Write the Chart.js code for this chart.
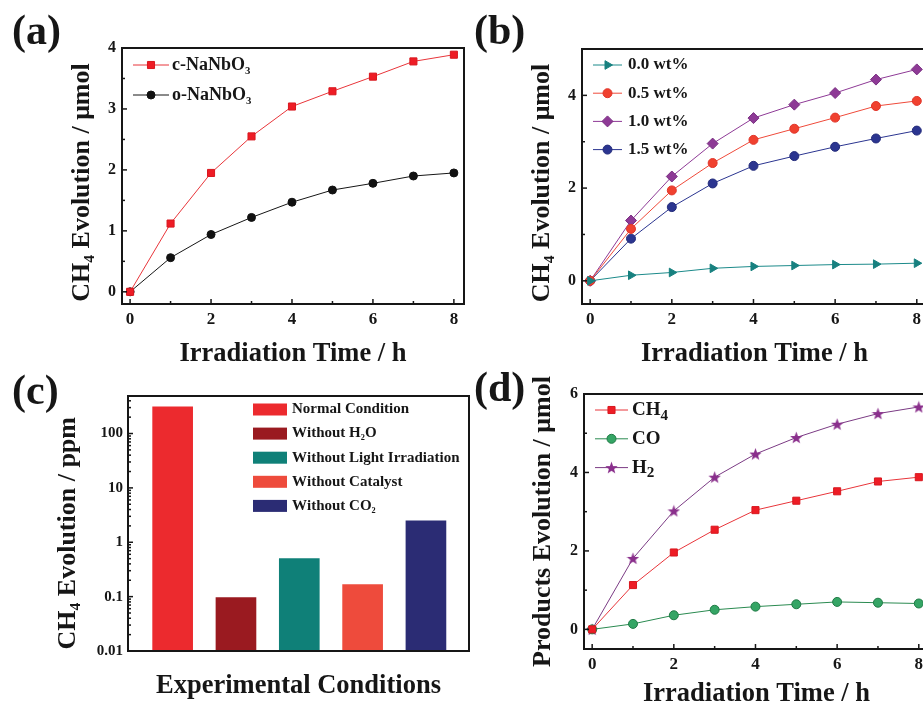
<!DOCTYPE html>
<html><head><meta charset="utf-8">
<script src="https://cdn.jsdelivr.net/npm/chart.js@4.4.1/dist/chart.umd.min.js"></script>
<style>
html,body{margin:0;padding:0;background:#fff;overflow:hidden;width:923px;height:704px;position:relative;}
.p{position:absolute;}
.p canvas{display:block;}
.lab{position:absolute;font-family:'Liberation Serif','Times New Roman',serif;font-weight:bold;font-size:42px;line-height:1;color:#161616;}
</style></head><body>
<div class="p" style="left:0;top:0"><canvas id="ca" width="470" height="370"></canvas></div>
<div class="p" style="left:470px;top:0"><canvas id="cb" width="470" height="370"></canvas></div>
<div class="p" style="left:0;top:370px"><canvas id="cc" width="470" height="334"></canvas></div>
<div class="p" style="left:470px;top:370px"><canvas id="cd" width="470" height="350"></canvas></div>
<div class="lab" style="left:12px;top:9px">(a)</div>
<div class="lab" style="left:474px;top:9px">(b)</div>
<div class="lab" style="left:12px;top:369px">(c)</div>
<div class="lab" style="left:474px;top:366px">(d)</div>
<script>
// ---------- data ----------
const hours = [0, 1, 2, 3, 4, 5, 6, 7, 8];
// (a)
const seriesA = ['c-NaNbO₃', 'o-NaNbO₃'];
const cNaNbO3 = [0, 1.12, 1.95, 2.55, 3.04, 3.29, 3.53, 3.78, 3.89];
const oNaNbO3 = [0, 0.56, 0.94, 1.22, 1.47, 1.67, 1.78, 1.90, 1.95];
// (b)
const loadings = ['0.0 wt%', '0.5 wt%', '1.0 wt%', '1.5 wt%'];
const wt00 = [0, 0.12, 0.18, 0.27, 0.31, 0.33, 0.35, 0.36, 0.38];
const wt05 = [0, 1.12, 1.95, 2.54, 3.04, 3.28, 3.52, 3.77, 3.88];
const wt10 = [0, 1.30, 2.25, 2.96, 3.51, 3.80, 4.05, 4.34, 4.56];
const wt15 = [0, 0.91, 1.59, 2.10, 2.48, 2.69, 2.89, 3.07, 3.24];
// (c)
const conditions = ['Normal Condition', 'Without H₂O', 'Without Light Irradiation', 'Without Catalyst', 'Without CO₂'];
const ch4ppm = [310, 0.096, 0.50, 0.167, 2.48];
const logTicks = [0.01, 0.1, 1, 10, 100];
// (d)
const products = ['CH₄', 'CO', 'H₂'];
const ch4 = [0, 1.13, 1.96, 2.54, 3.04, 3.28, 3.52, 3.77, 3.88];
const co  = [0, 0.14, 0.36, 0.50, 0.58, 0.64, 0.70, 0.68, 0.66];
const h2  = [0, 1.81, 3.02, 3.88, 4.47, 4.89, 5.23, 5.50, 5.67];

// ---------- style ----------
const SERIF = "'Liberation Serif','Times New Roman',serif";
Chart.defaults.font.family = SERIF;
Chart.defaults.font.weight = 'bold';
Chart.defaults.color = '#161616';

function starImage(color, size) {
  const c = document.createElement('canvas');
  c.width = size; c.height = size;
  const g = c.getContext('2d');
  const cx = size / 2, cy = size / 2 + 0.6, R = size / 2, r = R * 0.42;
  g.beginPath();
  for (let i = 0; i < 10; i++) {
    const a = -Math.PI / 2 + i * Math.PI / 5;
    const rr = i % 2 ? r : R;
    g.lineTo(cx + rr * Math.cos(a), cy + rr * Math.sin(a));
  }
  g.closePath(); g.fillStyle = color; g.fill();
  return c;
}
const starH2 = starImage('#8a2f8c', 13);

function drawRich(ctx, text, x, y, size, subScale, subDrop) {
  const subs = '₀₁₂₃₄₅₆₇₈₉';
  let cx = x;
  for (const ch of text) {
    const k = subs.indexOf(ch);
    if (k >= 0) {
      ctx.font = 'bold ' + (size * subScale) + 'px ' + SERIF;
      ctx.fillText(String(k), cx, y + size * subDrop);
      cx += ctx.measureText(String(k)).width;
    } else {
      ctx.font = 'bold ' + size + 'px ' + SERIF;
      ctx.fillText(ch, cx, y);
      cx += ctx.measureText(ch).width;
    }
  }
}

function marker(ctx, ds, x, y) {
  ctx.save();
  ctx.fillStyle = ds.pointBackgroundColor;
  ctx.strokeStyle = ds.pointBorderColor;
  ctx.lineWidth = ds.pointBorderWidth;
  const opt = { pointStyle: ds.pointStyle, rotation: ds.pointRotation || 0, radius: ds.pointRadius, borderWidth: ds.pointBorderWidth };
  if (Chart.helpers && Chart.helpers.drawPoint) Chart.helpers.drawPoint(ctx, opt, x, y);
  else { ctx.beginPath(); ctx.arc(x, y, ds.pointRadius, 0, Math.PI * 2); ctx.fill(); }
  ctx.restore();
}

const legendPlugin = {
  id: 'richLegend',
  afterDraw(chart, args, o) {
    if (!o || !o.x) return;
    const ctx = chart.ctx;
    ctx.save();
    ctx.textBaseline = 'middle';
    ctx.textAlign = 'left';
    chart.data.datasets.forEach((ds, i) => {
      const y = o.y + i * o.dy;
      if (o.type === 'box') {
        ctx.fillStyle = ds.backgroundColor;
        ctx.fillRect(o.x, y - o.boxH / 2, o.boxW, o.boxH);
      } else {
        ctx.strokeStyle = ds.borderColor; ctx.lineWidth = 1;
        ctx.beginPath(); ctx.moveTo(o.x, y); ctx.lineTo(o.x + o.lineLen, y); ctx.stroke();
        marker(ctx, ds, o.x + o.lineLen / 2, y);
      }
      ctx.fillStyle = '#161616';
      drawRich(ctx, ds.label, o.textX, y, o.size, o.subScale, o.subDrop);
    });
    ctx.restore();
  }
};

const framePlugin = {
  id: 'frameTicks',
  afterDraw(chart, args, o) {
    if (!o || !o.on) return;
    const { ctx, chartArea: a, scales: { x, y } } = chart;
    ctx.save();
    ctx.strokeStyle = '#161616';
    ctx.lineWidth = 1.5;
    const tick = (x1, y1, x2, y2) => { ctx.beginPath(); ctx.moveTo(x1, y1); ctx.lineTo(x2, y2); ctx.stroke(); };
    (o.xMajor || []).forEach(v => { const p = x.getPixelForValue(v); tick(p, a.bottom, p, a.bottom - 5); });
    (o.xMinor || []).forEach(v => { const p = x.getPixelForValue(v); tick(p, a.bottom, p, a.bottom - 3); });
    (o.yMajor || []).forEach(v => { const p = y.getPixelForValue(v); tick(a.left, p, a.left + 5, p); });
    (o.yMinor || []).forEach(v => { const p = y.getPixelForValue(v); if (p >= a.top) tick(a.left, p, a.left + 3, p); });
    ctx.lineWidth = 2;
    ctx.strokeRect(a.left, a.top, a.right - a.left, a.bottom - a.top);
    ctx.restore();
  }
};

function range(a, b, s) { const r = []; for (let v = a; v <= b + 1e-9; v += s) r.push(+v.toFixed(4)); return r; }

function lineChart(id, c) {
  return new Chart(document.getElementById(id), {
    type: 'line',
    data: {
      datasets: c.series.map(s => ({
        label: s.label,
        data: hours.map((h, i) => ({ x: h, y: s.data[i] })),
        borderColor: s.line, borderWidth: 1, tension: 0,
        pointStyle: s.style, pointRadius: s.r, pointRotation: s.rot || 0,
        pointBackgroundColor: s.fill, pointBorderColor: s.edge, pointBorderWidth: 1
      }))
    },
    options: {
      responsive: false, animation: false, devicePixelRatio: 1,
      layout: { padding: c.pad },
      plugins: { legend: { display: false }, tooltip: { enabled: false }, richLegend: c.legend, frameTicks: c.frame },
      scales: {
        x: {
          type: 'linear', min: -0.2, max: 8.25,
          grid: { display: false, drawTicks: false }, border: { display: false },
          ticks: { stepSize: 2, includeBounds: false, padding: 5, font: { size: 17, weight: 'bold' }, color: '#161616' },
          title: { display: true, text: 'Irradiation Time / h', font: { size: 26.5, weight: 'bold' }, color: '#161616', padding: { top: 0, bottom: c.xTitlePad } },
          afterFit: s => { s.height = c.xh; }
        },
        y: {
          type: 'linear', min: c.ymin, max: c.ymax,
          grid: { display: false, drawTicks: false }, border: { display: false },
          ticks: { stepSize: c.ystep, includeBounds: false, padding: 6, font: { size: 16, weight: 'bold' }, color: '#161616' },
          title: { display: true, text: c.ytitle, font: { size: 26, weight: 'bold' }, color: '#161616', padding: { top: c.yTitlePad, bottom: 0 } },
          afterFit: s => { s.width = c.yw; }
        }
      }
    },
    plugins: [framePlugin, legendPlugin]
  });
}

// (a)
lineChart('ca', {
  pad: { top: 48, right: 3, left: 0, bottom: 0 }, yw: 122, xh: 66,
  ymin: -0.2, ymax: 4, ystep: 1, ytitle: 'CH₄ Evolution / μmol  ', yTitlePad: 66.4, xTitlePad: 0,
  series: [
    { label: seriesA[0], data: cNaNbO3, line: '#e8353a', fill: '#ee1c25', edge: '#d8181f', style: 'rect', r: 5 },
    { label: seriesA[1], data: oNaNbO3, line: '#161616', fill: '#111', edge: '#111', style: 'circle', r: 4 }
  ],
  legend: { x: 133, y: 65, dy: 30, lineLen: 36, textX: 172, size: 18, subScale: 0.6, subDrop: 0.35 },
  frame: { on: true, xMajor: range(0, 8, 2), xMinor: range(1, 7, 2), yMajor: range(0, 4, 1), yMinor: range(0.5, 3.5, 1) }
});

// (b)
lineChart('cb', {
  pad: { top: 49, right: 13, left: 0, bottom: 0 }, yw: 112, xh: 66,
  ymin: -0.5, ymax: 5, ystep: 2, ytitle: 'CH₄ Evolution / μmol  ', yTitlePad: 56.4, xTitlePad: 0,
  series: [
    { label: loadings[0], data: wt00, line: '#1b8a8a', fill: '#17807f', edge: '#17807f', style: 'triangle', rot: 90, r: 5 },
    { label: loadings[1], data: wt05, line: '#ef4a3a', fill: '#f0412f', edge: '#e0352a', style: 'circle', r: 4.5 },
    { label: loadings[2], data: wt10, line: '#8e3a96', fill: '#8e3a96', edge: '#7a2f82', style: 'rectRot', r: 5.5 },
    { label: loadings[3], data: wt15, line: '#2b3590', fill: '#2b3590', edge: '#232b7a', style: 'circle', r: 4.5 }
  ],
  legend: { x: 123, y: 65, dy: 28.2, lineLen: 29, textX: 158, size: 17, subScale: 0.6, subDrop: 0.35 },
  frame: { on: true, xMajor: range(0, 8, 2), xMinor: range(1, 7, 2), yMajor: range(0, 4, 2), yMinor: [1, 3] }
});

// (c)
const barColors = ['#ec2a2e', '#9a1a20', '#0f8078', '#ee4b3c', '#2b2c74'];
function logMinor(max) {
  const r = [];
  for (const d of logTicks) for (let k = 2; k <= 9; k++) { const v = k * d; if (v <= max) r.push(v); }
  return r;
}
new Chart(document.getElementById('cc'), {
  type: 'bar',
  data: {
    datasets: conditions.map((c, i) => ({
      label: c, data: [{ x: i + 1, y: ch4ppm[i] }], backgroundColor: barColors[i],
      barThickness: 40, grouped: false, borderWidth: 0
    }))
  },
  options: {
    responsive: false, animation: false, devicePixelRatio: 1,
    layout: { padding: { top: 26, right: 1, left: 0, bottom: 0 } },
    plugins: {
      legend: { display: false }, tooltip: { enabled: false },
      richLegend: { type: 'box', x: 253, y: 409.5 - 370, dy: 24.1, boxW: 34, boxH: 12, textX: 292, size: 15, subScale: 0.55, subDrop: 0.3 },
      frameTicks: { on: true, yMajor: logTicks, yMinor: logMinor(490) }
    },
    scales: {
      x: {
        type: 'linear', min: 0.295, max: 5.68, offset: false,
        grid: { display: false, drawTicks: false, offset: false }, border: { display: false },
        ticks: { display: false },
        title: { display: true, text: 'Experimental Conditions', font: { size: 26.5, weight: 'bold' }, color: '#161616', padding: { top: 0, bottom: 1.8 } },
        afterFit: s => { s.height = 53; }
      },
      y: {
        type: 'logarithmic', min: 0.01, max: 490,
        grid: { display: false, drawTicks: false }, border: { display: false },
        afterBuildTicks: s => { s.ticks = logTicks.map(v => ({ value: v })); },
        ticks: { padding: 5, font: { size: 15, weight: 'bold' }, color: '#161616', callback: v => String(v) },
        title: { display: true, text: 'CH₄ Evolution / ppm   ', font: { size: 26, weight: 'bold' }, color: '#161616', padding: { top: 52.4, bottom: 0 } },
        afterFit: s => { s.width = 128; }
      }
    }
  },
  plugins: [framePlugin, legendPlugin]
});

// (d)
lineChart('cd', {
  pad: { top: 24, right: 11, left: 0, bottom: 0 }, yw: 114, xh: 71,
  ymin: -0.5, ymax: 6, ystep: 2, ytitle: 'Products Evolution / μmol', yTitlePad: 57.4, xTitlePad: 10.1,
  series: [
    { label: products[0], data: ch4, line: '#e8353a', fill: '#ee1c25', edge: '#d8181f', style: 'rect', r: 5 },
    { label: products[1], data: co, line: '#2a8a50', fill: '#35a565', edge: '#1f7a45', style: 'circle', r: 4.5 },
    { label: products[2], data: h2, line: '#7b3b84', fill: '#8a2f8c', edge: '#8a2f8c', style: starH2, r: 6 }
  ],
  legend: { x: 125, y: 40, dy: 28.8, lineLen: 33, textX: 162, size: 19, subScale: 0.8, subDrop: 0.3 },
  frame: { on: true, xMajor: range(0, 8, 2), xMinor: range(1, 7, 2), yMajor: range(0, 6, 2), yMinor: [1, 3, 5] }
});
</script>
</body></html>
